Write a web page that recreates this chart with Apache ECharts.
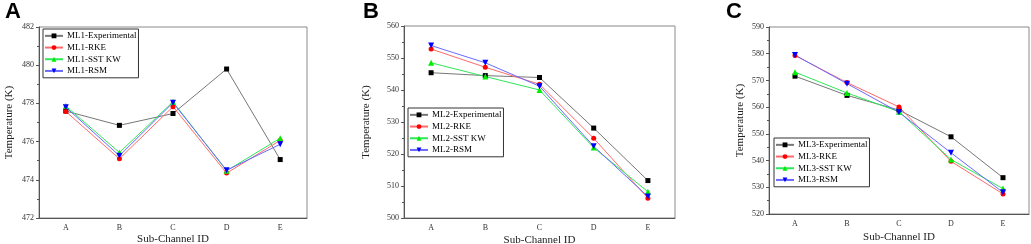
<!DOCTYPE html>
<html lang="en">
<head>
    <meta charset="UTF-8">
    <title>Sub-Channel Temperature</title>
    <script src="https://cdn.jsdelivr.net/npm/echarts@6/dist/echarts.min.js"></script>
    <style>
        body { margin: 0; background: #fff; }
    </style>
</head>
<body>
    <div id="main" style="width: 1031px; height: 244px;"></div>
    <script>
        var categories = ['A', 'B', 'C', 'D', 'E'];
        var panelLetters = ['A', 'B', 'C'];

        // ML1 (panel A)
        var ml1Exp = [477.6, 476.85, 477.47, 479.8, 475.06];
        var ml1Rke = [477.58, 475.1, 477.83, 474.35, 476.06];
        var ml1Sst = [477.86, 475.43, 478.08, 474.47, 476.18];
        var ml1Rsm = [477.8, 475.26, 478.04, 474.5, 475.86];
        // ML2 (panel B)
        var ml2Exp = [545.4, 544.5, 543.9, 528.1, 511.7];
        var ml2Rke = [552.8, 547.1, 541.8, 524.9, 506.2];
        var ml2Sst = [548.5, 544.2, 540.0, 522.0, 508.2];
        var ml2Rsm = [553.9, 548.5, 541.2, 522.4, 506.7];
        // ML3 (panel C)
        var ml3Exp = [571.6, 564.4, 558.9, 548.9, 533.6];
        var ml3Rke = [579.3, 569.2, 560.1, 539.7, 527.5];
        var ml3Sst = [573.1, 565.3, 558.3, 540.4, 529.5];
        var ml3Rsm = [579.5, 568.8, 558.1, 542.9, 528.1];

        var yRanges = [[472, 482, 2], [500, 560, 10], [520, 590, 10]];
        var seriesSuffix = ['Experimental', 'RKE', 'SST KW', 'RSM'];
        var panelData = [
            [ml1Exp, ml1Rke, ml1Sst, ml1Rsm],
            [ml2Exp, ml2Rke, ml2Sst, ml2Rsm],
            [ml3Exp, ml3Rke, ml3Sst, ml3Rsm]
        ];

        var serif = '"Liberation Serif", "Times New Roman", serif';
        var lineColors = ['#777777', '#ff6a6a', '#2ee85a', '#6a6aff'];
        var markColors = ['#000000', '#ff0000', '#00ee00', '#0000ff'];
        var symbols = ['rect', 'circle', 'triangle', 'path://M0,0L10,0L5,9Z'];
        var symbolSizes = [5, 5, 6, 6];

        var grids = [
            { left: 39, right: 724, top: 27, bottom: 26 },
            { left: 404, right: 356, top: 26, bottom: 26 },
            { left: 769, right: 2, top: 27, bottom: 30 }
        ];
        var yNameGaps = [24, 32, 23];
        var xNameGaps = [16, 17, 18];
        var legendPos = [
            { left: 43, top: 29 },
            { left: 408, top: 108 },
            { left: 774, top: 138 }
        ];

        var chartDom = document.getElementById('main');
        var myChart = echarts.init(chartDom);

        var title = [], grid = [], xAxis = [], yAxis = [], legend = [], series = [];
        var letterX = [0, 358, 721];

        for (var p = 0; p < 3; p++) {
            title.push({
                text: panelLetters[p],
                left: letterX[p],
                top: -4,
                textStyle: { fontFamily: '"Liberation Sans", Arial, sans-serif', fontWeight: 'bold', fontSize: 22, color: '#000' }
            });
            grid.push(Object.assign({
                show: true,
                borderColor: '#8a8a8a',
                borderWidth: 1,
                containLabel: false,
                outerBoundsMode: 'none'
            }, grids[p]));
            xAxis.push({
                type: 'category',
                gridIndex: p,
                data: categories,
                boundaryGap: true,
                name: 'Sub-Channel ID',
                nameLocation: 'middle',
                nameGap: xNameGaps[p],
                nameMoveOverlap: false,
                nameTextStyle: { fontFamily: serif, fontSize: 11, color: '#222' },
                axisLine: { lineStyle: { color: '#555', width: 1 } },
                axisTick: { alignWithLabel: true, length: 3, lineStyle: { color: '#555' } },
                axisLabel: { fontFamily: serif, fontSize: 8, color: '#333', margin: 6 },
                splitLine: { show: false }
            });
            yAxis.push({
                type: 'value',
                gridIndex: p,
                min: yRanges[p][0],
                max: yRanges[p][1],
                interval: yRanges[p][2],
                name: 'Temperature (K)',
                nameLocation: 'middle',
                nameGap: yNameGaps[p],
                nameTextStyle: { fontFamily: serif, fontSize: 11, color: '#222' },
                axisLine: { show: true, lineStyle: { color: '#555', width: 1 } },
                axisTick: { show: true, length: 3, lineStyle: { color: '#555' } },
                minorTick: { show: true, splitNumber: 2, length: 2, lineStyle: { color: '#555' } },
                axisLabel: { fontFamily: serif, fontSize: 8, color: '#333', margin: 5 },
                splitLine: { show: false }
            });
            var names = [];
            for (var s = 0; s < 4; s++) {
                var nm = 'ML' + (p + 1) + '-' + seriesSuffix[s];
                names.push(nm);
                series.push({
                    name: nm,
                    type: 'line',
                    xAxisIndex: p,
                    yAxisIndex: p,
                    data: panelData[p][s],
                    symbol: symbols[s],
                    symbolSize: symbolSizes[s],
                    showAllSymbol: true,
                    lineStyle: { color: lineColors[s], width: 1 },
                    itemStyle: { color: markColors[s] },
                    emphasis: { disabled: true },
                    animation: false
                });
            }
            legend.push({
                data: names,
                orient: 'vertical',
                left: legendPos[p].left,
                top: legendPos[p].top,
                borderColor: '#333',
                borderWidth: 1,
                padding: [1, 2, 1, 1],
                itemGap: 0,
                itemWidth: 18,
                itemHeight: 6,
                textStyle: { fontFamily: serif, fontSize: 9, color: '#000', lineHeight: 11.7, padding: [0, 0, 0, -1] },
                selectedMode: false
            });
        }

        var option = {
            backgroundColor: '#fff',
            animation: false,
            title: title,
            grid: grid,
            xAxis: xAxis,
            yAxis: yAxis,
            legend: legend,
            series: series
        };

        option && myChart.setOption(option);
    </script>
</body>
</html>
